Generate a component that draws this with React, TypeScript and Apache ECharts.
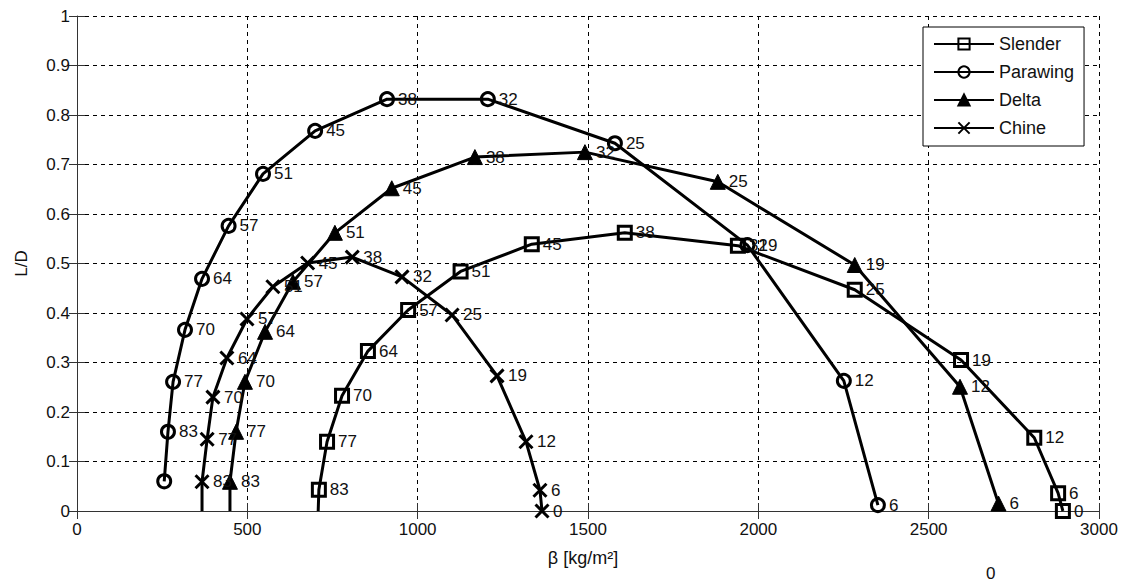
import React, { useEffect, useRef } from "react";
import * as echarts from "echarts";

// ---- Data (β in kg/m², L/D, angle-of-attack labels) ----
const slenderBeta = [710, 734, 778, 854, 972, 1126, 1335, 1608, 1940, 2283, 2595, 2810, 2880, 2894];
const slenderLD = [0.043, 0.14, 0.233, 0.323, 0.406, 0.484, 0.539, 0.562, 0.536, 0.447, 0.305, 0.148, 0.036, 0.0];
const slenderLabels = ["83", "77", "70", "64", "57", "51", "45", "38", "32", "25", "19", "12", "6", "0"];
const slenderBase = 708;

const parawingBeta = [256, 267, 282, 317, 367, 445, 546, 699, 910, 1206, 1579, 1968, 2251, 2351];
const parawingLD = [0.06, 0.16, 0.261, 0.366, 0.469, 0.576, 0.681, 0.768, 0.832, 0.832, 0.743, 0.537, 0.263, 0.012];
const parawingLabels = ["", "83", "77", "70", "64", "57", "51", "45", "38", "32", "25", "19", "12", "6"];

const deltaBeta = [449, 467, 493, 552, 634, 757, 924, 1168, 1491, 1881, 2283, 2592, 2705];
const deltaLD = [0.059, 0.16, 0.261, 0.362, 0.463, 0.562, 0.652, 0.715, 0.725, 0.665, 0.497, 0.251, 0.015];
const deltaLabels = ["83", "77", "70", "64", "57", "51", "45", "38", "32", "25", "19", "12", "6"];
const deltaBase = 449;

const chineBeta = [367, 382, 399, 440, 499, 575, 677, 808, 954, 1101, 1233, 1318, 1359, 1365];
const chineLD = [0.059, 0.145, 0.23, 0.309, 0.388, 0.453, 0.501, 0.513, 0.473, 0.396, 0.273, 0.14, 0.042, 0.0];
const chineLabels = ["83", "77", "70", "64", "57", "51", "45", "38", "32", "25", "19", "12", "6", "0"];
const chineBase = 367;

const xTicks = { min: 0, max: 3000, interval: 500 };
const yTicks = { min: 0, max: 1, interval: 0.1 };

const FONT = "'Liberation Sans', Arial, sans-serif";
const TXT = "#111";

function buildData(xs: number[], ys: number[], labs: string[], base?: number) {
  const out: any[] = [];
  if (base !== undefined) {
    out.push({ value: [base, 0, ""], symbol: "none" });
  }
  xs.forEach((x, i) => out.push({ value: [x, ys[i], labs[i]] }));
  return out;
}

const crossPath = "path://M0,0L10,10M10,0L0,10";

export default function App() {
  const ref = useRef<HTMLDivElement>(null);
  useEffect(() => {
    if (!ref.current) return;
    const chart = echarts.init(ref.current, null, { renderer: "svg" });
    const label = {
      show: true,
      position: "right" as const,
      distance: 3,
      color: TXT,
      fontSize: 17,
      fontFamily: FONT,
      formatter: (p: any) => p.value[2],
    };
    const line = { color: "#000", width: 3 };
    const mk = (name: string, data: any[], symbol: string, size: number, item: any) => ({
      name,
      type: "line",
      data,
      symbol,
      symbolSize: size,
      showAllSymbol: true,
      lineStyle: line,
      itemStyle: item,
      label,
      emphasis: { disabled: true },
      xAxisIndex: 0,
      yAxisIndex: 0,
      z: 3,
    });
    const hollow = { color: "rgba(255,255,255,0)", borderColor: "#000", borderWidth: 3 };
    chart.setOption({
      animation: false,
      backgroundColor: "#fff",
      textStyle: { fontFamily: FONT },
      grid: { left: 77, right: 26, top: 16, bottom: 69, containLabel: false },
      legend: {
        orient: "vertical",
        left: 923,
        top: 27,
        padding: [8, 10, 9, 10],
        itemWidth: 60,
        itemHeight: 14,
        itemGap: 10,
        itemTextGap: 7,
        backgroundColor: "#fff",
        borderColor: "#000",
        borderWidth: 1,
        borderRadius: 0,
        textStyle: { color: TXT, fontSize: 18, fontFamily: FONT, lineHeight: 18 },
        data: ["Slender", "Parawing", "Delta", "Chine"],
      },
      xAxis: [
        {
          type: "value",
          ...xTicks,
          name: "β [kg/m²]",
          nameLocation: "middle",
          nameGap: 38,
          nameTextStyle: { color: TXT, fontSize: 18, fontFamily: FONT, padding: [0, 10, 0, 0] },
          axisLine: { show: true, onZero: false, lineStyle: { color: "#333", width: 1 } },
          axisTick: { show: true, inside: true, length: 8, lineStyle: { color: "#333" } },
          axisLabel: {
            color: TXT,
            fontSize: 17,
            fontFamily: FONT,
            margin: 10,
            formatter: (v: number) => String(v),
          },
          splitLine: { show: true, lineStyle: { color: "#000", type: [4, 4], width: 1 } },
        },
        {
          type: "value",
          ...xTicks,
          position: "top",
          axisLine: { show: false },
          axisTick: { show: true, inside: true, length: 8, lineStyle: { color: "#333" } },
          axisLabel: { show: false },
          splitLine: { show: false },
        },
      ],
      yAxis: [
        {
          type: "value",
          ...yTicks,
          name: "L/D",
          nameLocation: "middle",
          nameGap: 47,
          nameTextStyle: { color: TXT, fontSize: 17, fontFamily: FONT },
          axisLine: { show: true, onZero: false, lineStyle: { color: "#333", width: 1 } },
          axisTick: { show: true, inside: true, length: 8, lineStyle: { color: "#333" } },
          axisLabel: {
            color: TXT,
            fontSize: 17,
            fontFamily: FONT,
            margin: 7,
            formatter: (v: number) => (v === 0 || v === 1 ? String(v) : v.toFixed(1)),
          },
          splitLine: { show: true, lineStyle: { color: "#000", type: [4, 4], width: 1 } },
        },
        {
          type: "value",
          ...yTicks,
          position: "right",
          axisLine: { show: false },
          axisTick: { show: true, inside: true, length: 8, lineStyle: { color: "#333" } },
          axisLabel: { show: false },
          splitLine: { show: false },
        },
      ],
      graphic: [
        {
          type: "text",
          left: 986,
          top: 565,
          style: { text: "0", fill: TXT, fontSize: 17, fontFamily: FONT },
        },
      ],
      series: [
        mk("Slender", buildData(slenderBeta, slenderLD, slenderLabels, slenderBase), "rect", 13, hollow),
        mk("Parawing", buildData(parawingBeta, parawingLD, parawingLabels), "circle", 13, hollow),
        mk("Delta", buildData(deltaBeta, deltaLD, deltaLabels, deltaBase), "triangle", 15, {
          color: "#000",
          borderColor: "#000",
          borderWidth: 1,
        }),
        mk("Chine", buildData(chineBeta, chineLD, chineLabels, chineBase), crossPath, 13, {
          color: "rgba(255,255,255,0)",
          borderColor: "#000",
          borderWidth: 3,
        }),
      ],
    });
    return () => chart.dispose();
  }, []);
  return (
    <div
      ref={ref}
      style={{ position: "fixed", left: 0, top: 0, width: 1125, height: 580, background: "#fff" }}
    />
  );
}
